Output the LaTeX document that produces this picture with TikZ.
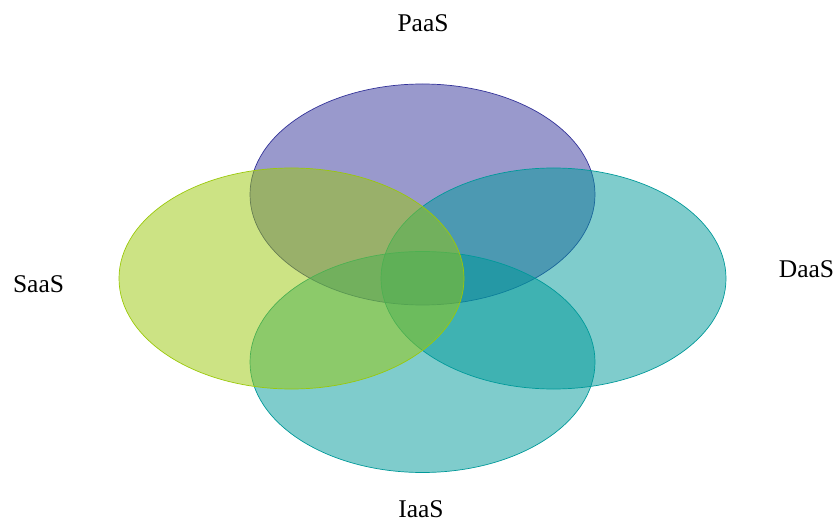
\documentclass[tikz,border=0pt]{standalone}
\usepackage{fontspec}
\setmainfont{Liberation Serif}
\usetikzlibrary{shapes.geometric}
\definecolor{navyc}{RGB}{51,51,153}
\definecolor{limec}{RGB}{154,200,10}
\definecolor{tealc}{RGB}{0,153,153}
\tikzset{
  setshape/.style={ellipse, draw=#1, fill=#1, fill opacity=0.5, draw opacity=1,
    line width=0.7pt, minimum width=345pt, minimum height=221pt, inner sep=0pt},
  lbl/.style={anchor=base, inner sep=0pt, font=\fontsize{25.5}{30}\selectfont}
}
\begin{document}
\begin{tikzpicture}[x=1pt,y=-1pt]
\useasboundingbox (0,0) rectangle (835,521);
\node[setshape=navyc] (paas) at (422.5,194.5) {};
\node[setshape=tealc] (iaas) at (422.5,362) {};
\node[setshape=tealc] (daas) at (553.5,278.5) {};
\node[setshape=limec] (saas) at (291.5,278.5) {};
\node[lbl] (lpaas) at (423,32) {PaaS};
\node[lbl] (lsaas) at (38.5,293) {SaaS};
\node[lbl] (ldaas) at (806.5,277) {DaaS};
\node[lbl] (liaas) at (421,517) {IaaS};
\end{tikzpicture}
\end{document}
